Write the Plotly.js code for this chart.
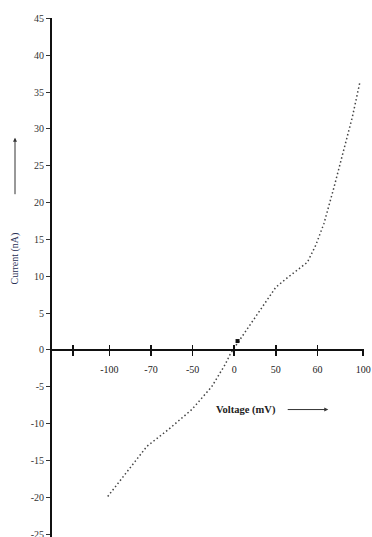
<!DOCTYPE html>
<html>
<head>
<meta charset="utf-8">
<script src="https://cdn.plot.ly/plotly-3.0.1.min.js"></script>
<style>html,body{margin:0;padding:0;background:#fff;}#chart{width:372px;height:537px;}</style>
</head>
<body>
<div id="chart"></div>
<script>
// x in evenly spaced axis units (each labelled tick step = 50 units)
const voltageUnits = [-152, -129, -105, -79, -51, -27, -11, -4, 5, 25, 50, 64, 88, 98, 108, 120, 132, 142, 151];
const currentNA   = [-19.9, -16.5, -13.1, -10.8, -8.1, -5.0, -2.0, -0.4, 1.1, 4.5, 8.5, 9.8, 11.9, 14.2, 17.2, 22.1, 27.1, 31.6, 36.3];
const markX = [4];
const markY = [1.2];
const xTickVals = [-194, -150, -100, -50, 0, 50, 100, 155];
const xTickText = ['', '-100', '-70', '-50', '0', '50', '60', '100'];
const yTickVals = [-25, -20, -15, -10, -5, 0, 5, 10, 15, 20, 25, 30, 35, 40, 45];
const yTickText = ['-25', '-20', '-15', '-10', '-5', '0', '5', '10', '15', '20', '25', '30', '35', '40', '45'];

const xRange = [-219, 156];
const yRange = [-25.4, 45.05];
const zeroPos = (0 - yRange[0]) / (yRange[1] - yRange[0]);

const serif = 'Liberation Serif, Times New Roman, serif';

const traces = [
  {x: voltageUnits, y: currentNA, mode: 'lines', type: 'scatter', xaxis: 'x',
   line: {color: '#444', width: 1.5, dash: '1.5px,2.5px'}, hoverinfo: 'skip'},
  {x: markX, y: markY, mode: 'markers', type: 'scatter', xaxis: 'x',
   marker: {symbol: 'square', size: 4, color: '#111'}, hoverinfo: 'skip'},
  {x: [], y: [], xaxis: 'x2', type: 'scatter', hoverinfo: 'skip'}
];

const xCommon = {
  range: xRange, anchor: 'free', position: zeroPos,
  tickmode: 'array', tickvals: xTickVals, ticktext: xTickText,
  ticklen: 5, tickwidth: 1.5, tickcolor: '#111',
  showgrid: false, zeroline: false, fixedrange: true
};

const layout = {
  width: 372, height: 537,
  margin: {l: 52, r: 8, t: 18, b: 0},
  paper_bgcolor: '#fff', plot_bgcolor: '#fff',
  showlegend: false,
  xaxis: Object.assign({}, xCommon, {
    ticks: 'outside', showline: true, linecolor: '#111', linewidth: 2,
    ticklabelstandoff: 5, ticklabeloverflow: 'allow',
    tickfont: {family: serif, size: 10, color: '#222'}
  }),
  xaxis2: Object.assign({}, xCommon, {
    overlaying: 'x', ticks: 'inside', showticklabels: false, showline: false
  }),
  yaxis: {
    range: yRange, tickmode: 'array', tickvals: yTickVals, ticktext: yTickText,
    ticks: 'outside', ticklen: 4, tickwidth: 1, tickcolor: '#333',
    showline: true, linecolor: '#111', linewidth: 2, ticklabeloverflow: 'allow',
    showgrid: false, zeroline: false, fixedrange: true,
    tickfont: {family: serif, size: 10, color: '#333'}
  },
  annotations: [
    {xref: 'x', yref: 'y', x: xRange[0], y: 12.4, text: 'Current (nA)', textangle: -90,
     showarrow: false, xshift: -37, font: {family: serif, size: 10, color: '#2a2f55'}},
    {xref: 'x', yref: 'y', x: xRange[0], y: 28.8, ax: 0, ay: 58, axref: 'pixel', ayref: 'pixel',
     text: '', showarrow: true, arrowhead: 2, arrowsize: 0.8, arrowwidth: 1, arrowcolor: '#333', xshift: -37},
    {xref: 'x', yref: 'y', x: 14, y: -8.1, text: '<b>Voltage (mV)</b>', showarrow: false,
     font: {family: serif, size: 10.5, color: '#222'}},
    {xref: 'x', yref: 'y', x: 113, y: -8.1, ax: -42, ay: 0,
     text: '', showarrow: true, arrowhead: 2, arrowsize: 0.8, arrowwidth: 1, arrowcolor: '#333'}
  ]
};

Plotly.newPlot('chart', traces, layout, {displayModeBar: false, staticPlot: true});
</script>
</body>
</html>
